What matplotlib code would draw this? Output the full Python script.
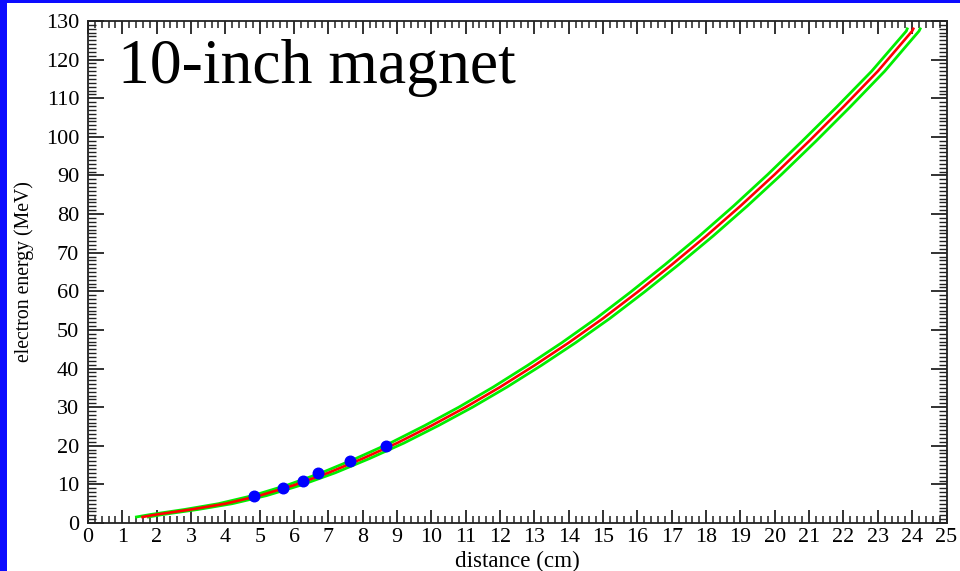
import matplotlib
matplotlib.use("Agg")
import matplotlib.pyplot as plt
from matplotlib.ticker import MultipleLocator
from matplotlib.patches import Rectangle

# Calibration curve: electron energy vs. distance along the detector plane
energy_mev = [1.5, 2.2, 3.5, 5.0, 7.1, 9.8, 13.0, 16.7, 20.7, 25.2, 30.0, 35.2,
              40.8, 46.7, 53.0, 59.8, 66.9, 74.3, 82.1, 90.3, 98.9, 107.8,
              117.0, 127.4, 128.3]
dist_center = [1.55, 2.0, 3.0, 4.0, 5.0, 6.0, 7.0, 8.0, 9.0, 10.0, 11.0, 12.0,
               13.0, 14.0, 15.0, 16.0, 17.0, 18.0, 19.0, 20.0, 21.0, 22.0,
               23.0, 24.0, 24.05]
# Envelope curves (upper / lower bound of the calibration)
dist_upper = [1.37, 1.82, 2.81, 3.8, 4.8, 5.8, 6.8, 7.8, 8.8, 9.8, 10.8, 11.8,
              12.8, 13.8, 14.8, 15.8, 16.8, 17.8, 18.8, 19.8, 20.8, 21.81,
              22.82, 23.83, 23.87]
dist_lower = [1.72, 2.18, 3.2, 4.2, 5.2, 6.2, 7.2, 8.2, 9.2, 10.2, 11.2, 12.2,
              13.2, 14.2, 15.2, 16.2, 17.2, 18.2, 19.2, 20.2, 21.2, 22.2,
              23.2, 24.2, 24.25]

# Measured points
meas_dist = [4.82, 5.69, 6.27, 6.70, 7.63, 8.67]
meas_energy = [7, 9, 11, 13, 16, 20]

x_ticks = list(range(0, 26))
y_ticks = list(range(0, 131, 10))

serif = "Liberation Serif"

fig = plt.figure(figsize=(9.6, 5.71), dpi=100)
fig.patch.set_facecolor("white")

# Blue frame strips along the left and top edges
fig.patches.append(Rectangle((0, 0), 7 / 960, 1, transform=fig.transFigure,
                             facecolor="#0c0cff", edgecolor="none", zorder=0))
fig.patches.append(Rectangle((0, 1 - 2.5 / 571), 1, 2.5 / 571, transform=fig.transFigure,
                             facecolor="#0c0cff", edgecolor="none", zorder=0))

ax = fig.add_axes([88 / 960, 48 / 571, 858.5 / 960, 502 / 571])

ax.plot(dist_upper, energy_mev, color="#00ee00", lw=2.0, solid_capstyle="butt", zorder=2)
ax.plot(dist_lower, energy_mev, color="#00ee00", lw=2.0, solid_capstyle="butt", zorder=2)
ax.plot(dist_center, energy_mev, color="#ff0000", lw=1.9, solid_capstyle="butt", zorder=3)
ax.plot(meas_dist, meas_energy, linestyle="none", marker="o", ms=7.6,
        color="#0000ff", mec="#0000ff", zorder=4)

ax.set_xlim(0, 25)
ax.set_ylim(0, 130)
ax.set_xticks(x_ticks)
ax.set_yticks(y_ticks)
ax.xaxis.set_minor_locator(MultipleLocator(0.2))
ax.yaxis.set_minor_locator(MultipleLocator(1))

ax.tick_params(axis="both", which="both", direction="in", top=True, right=True,
               color="#222222")
ax.tick_params(axis="x", which="major", length=9.5, width=1.3, pad=3.5)
ax.tick_params(axis="x", which="minor", length=4.8, width=1.1)
ax.tick_params(axis="y", which="major", length=11.5, width=1.3, pad=6.3)
ax.tick_params(axis="y", which="minor", length=6, width=1.0)

for lbl in ax.get_xticklabels():
    lbl.set_fontfamily(serif)
    lbl.set_fontsize(15.8)
for lbl in ax.get_yticklabels():
    lbl.set_fontfamily(serif)
    lbl.set_fontsize(16)

for sp in ax.spines.values():
    sp.set_linewidth(1.3)
    sp.set_color("#222222")

fig.text(517 / 960, 0.017, "distance (cm)", family=serif, fontsize=16.6,
         ha="center", va="center")
fig.text(24 / 960, (571 - 272) / 571, "electron energy (MeV)", family=serif,
         fontsize=14.2, rotation=90, ha="center", va="center")

ax.text(0.035, 0.877, "10-inch magnet", transform=ax.transAxes, family=serif,
        fontsize=45.8, ha="left", va="baseline")

fig.savefig("out.png", dpi=100)
